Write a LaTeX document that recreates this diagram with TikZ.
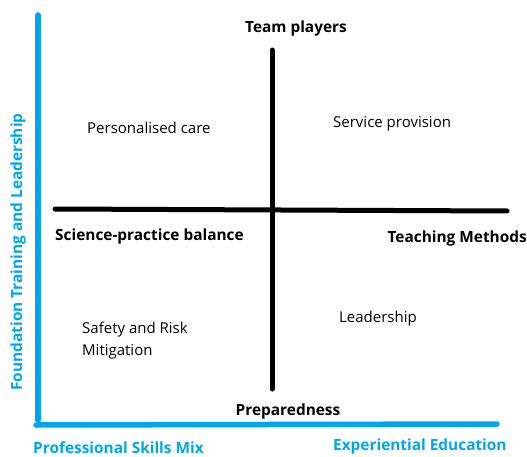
\documentclass[tikz,border=0pt]{standalone}
\usepackage{fontspec}
\setmainfont{Open Sans}
\definecolor{axisblue}{RGB}{0,166,237}
\begin{document}
\begin{tikzpicture}[x=1pt,y=-1pt,
  axis/.style={draw=axisblue,line width=5.5pt,line cap=round},
  divider/.style={draw=black,line width=5pt,line cap=round},
  lbl/.style={font=\fontsize{15}{22}\selectfont,inner sep=0pt},
  head/.style={font=\fontsize{15.4}{18}\selectfont\bfseries,inner sep=0pt},
  axlbl/.style={font=\fontsize{15.4}{18}\selectfont\bfseries,text=axisblue,inner sep=0pt}]
\useasboundingbox (0,0) rectangle (527,457);
% axes
\coordinate (ytop) at (38,15);
\coordinate (ybot) at (38,420);
\coordinate (xl) at (36,425);
\coordinate (xr) at (497,424);
\draw[axis] (ytop) -- (ybot);
\draw[axis] (xl) -- (xr);
% quadrant dividers
\coordinate (vtop) at (272,50);
\coordinate (vbot) at (272,389);
\coordinate (hl) at (55,209);
\coordinate (hr) at (507,211);
\draw[divider] (vtop) -- (vbot);
\draw[divider] (hl) -- (hr);
% headings
\node[head] (team) at (296,29) {Team players};
\node[head] (prep) at (288,411) {Preparedness};
\node[head,anchor=west] (sci) at (55,236) {Science-practice balance};
\node[head,anchor=east] (teach) at (527,238) {Teaching Methods};
% quadrant labels
\node[lbl,anchor=west] (care) at (87,128) {Personalised care};
\node[lbl,anchor=west] (serv) at (333,124) {Service provision};
\node[lbl,anchor=west] (lead) at (339,319) {Leadership};
\node[lbl,anchor=west,align=left] (safe) at (82,341) {Safety and Risk\\Mitigation};
% axis labels
\node[axlbl,anchor=west] (skills) at (33,448) {Professional Skills Mix};
\node[axlbl,anchor=west] (exp) at (333,446) {Experiential Education};
\node[axlbl,rotate=90] (found) at (18,252) {Foundation Training and Leadership};
\end{tikzpicture}
\end{document}
